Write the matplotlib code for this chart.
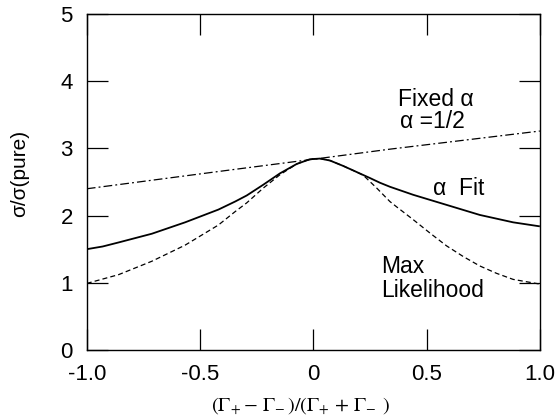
import matplotlib
matplotlib.use("Agg")
import matplotlib.pyplot as plt

plt.rcParams['font.family'] = ['Liberation Sans', 'DejaVu Sans']
plt.rcParams['mathtext.fontset'] = 'stix'

# alpha fit (solid)
x_fit = [-1.0, -0.93, -0.86, -0.713, -0.566, -0.419, -0.345, -0.294, -0.221, -0.147, -0.073,
         -0.015, 0.03, 0.074, 0.132, 0.191, 0.25, 0.294, 0.338, 0.441, 0.588,
         0.735, 0.882, 1.0]
y_fit = [1.50, 1.54, 1.60, 1.73, 1.90, 2.09, 2.21, 2.30, 2.46, 2.63, 2.77,
         2.84, 2.85, 2.82, 2.74, 2.65, 2.56, 2.49, 2.43, 2.31, 2.16,
         2.01, 1.90, 1.84]

# max likelihood (dashed)
x_ml = [-1.0, -0.86, -0.713, -0.566, -0.419, -0.345, -0.294, -0.221, -0.147, -0.073,
        -0.015, 0.03, 0.074, 0.132, 0.191, 0.221, 0.28, 0.338, 0.368, 0.441,
        0.515, 0.588, 0.662, 0.735, 0.809, 0.882, 1.0]
y_ml = [0.99, 1.12, 1.32, 1.56, 1.86, 2.06, 2.19, 2.41, 2.61, 2.77,
        2.84, 2.85, 2.82, 2.74, 2.65, 2.60, 2.41, 2.21, 2.13, 1.94,
        1.74, 1.55, 1.39, 1.25, 1.14, 1.05, 0.98]

# fixed alpha = 1/2 (dash-dot)
x_fix = [-1.0, -0.367, 0.0, 0.338, 1.0]
y_fix = [2.40, 2.68, 2.84, 2.99, 3.26]

xticks = [-1.0, -0.5, 0, 0.5, 1.0]
xticklabels = ['-1.0', '-0.5', '0', '0.5', '1.0']
yticks = [0, 1, 2, 3, 4, 5]

fig = plt.figure(figsize=(5.6, 4.19), dpi=100)
ax = fig.add_axes([0.155, 0.165, 0.809, 0.801])

ax.plot(x_fit, y_fit, color='black', lw=1.3, solid_capstyle='butt')
ax.plot(x_ml, y_ml, color='black', lw=0.9, linestyle=(0, (4, 2.5)))
ax.plot(x_fix, y_fix, color='black', lw=0.9, linestyle=(0, (7, 2.5, 1.5, 2.5)))

ax.set_xlim(-1, 1)
ax.set_ylim(0, 5)
ax.set_xticks(xticks)
ax.set_xticklabels(xticklabels)
ax.set_yticks(yticks)
ax.tick_params(direction='in', length=15, width=0.9, top=True, right=True,
               labelsize=16)
ax.tick_params(axis='x', pad=10)
ax.tick_params(axis='y', pad=10)
for s in ax.spines.values():
    s.set_linewidth(1.0)

fs = 16.5
ax.text(0.374, 3.63, 'Fixed α', fontsize=fs, va='baseline')
ax.text(0.383, 3.30, 'α =1/2', fontsize=fs, va='baseline')
ax.text(0.528, 2.31, 'α  Fit', fontsize=fs, va='baseline')
ax.text(0.30, 1.14, 'Max', fontsize=fs, va='baseline')
ax.text(0.30, 0.79, 'Likelihood', fontsize=fs, va='baseline')

ax.set_ylabel('σ/σ(pure)', fontsize=15)
ax.yaxis.set_label_coords(-0.128, 0.527)
ax.set_xlabel('$(\\Gamma_{\\!+}\\!-\\,\\Gamma_{\\!-})/(\\Gamma_{\\!+}+\\,\\Gamma_{\\!-}\\;)$',
              fontsize=14.5)
ax.xaxis.set_label_coords(0.472, -0.135)

fig.savefig('out.png', dpi=100)
